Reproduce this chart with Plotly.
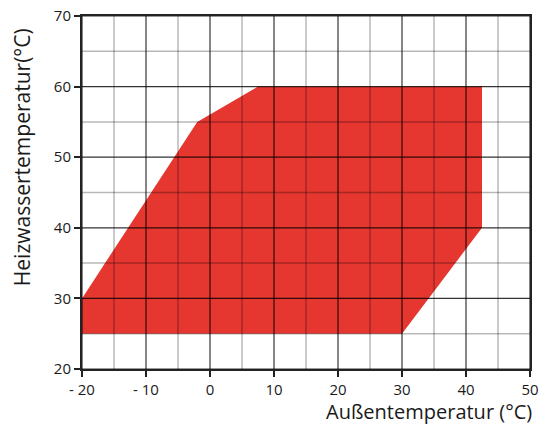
import plotly.graph_objects as go

# Operating envelope (outer temperature vs heating water temperature)
outside_temp = [-20, -20, -2, 7.5, 42.5, 42.5, 30, -20]
water_temp = [25, 30, 55, 60, 60, 40, 25, 25]

x_major = [-20, -10, 0, 10, 20, 30, 40, 50]
x_major_labels = ["- 20", "- 10", "0", "10", "20", "30", "40", "50"]
x_minor = [-15, -5, 5, 15, 25, 35, 45]
y_major = [20, 30, 40, 50, 60, 70]
y_minor = [25, 35, 45, 55, 65]

FONT = "'Open Sans', Lato, sans-serif"

fig = go.Figure()
fig.add_trace(go.Scatter(
    x=outside_temp, y=water_temp, mode="lines", fill="toself",
    fillcolor="#E53630", line=dict(width=0, color="#E53630"),
    hoverinfo="skip", showlegend=False,
))

shapes = []
for v in x_minor:
    shapes.append(dict(type="line", xref="x", yref="paper", x0=v, x1=v, y0=0, y1=1,
                       line=dict(color="rgba(0,0,0,0.28)", width=1.5), layer="above"))
for v in y_minor:
    shapes.append(dict(type="line", xref="paper", yref="y", x0=0, x1=1, y0=v, y1=v,
                       line=dict(color="rgba(0,0,0,0.28)", width=1.5), layer="above"))
for v in x_major:
    shapes.append(dict(type="line", xref="x", yref="paper", x0=v, x1=v, y0=0, y1=1,
                       line=dict(color="rgba(0,0,0,0.8)", width=1.2), layer="above"))
for v in y_major:
    shapes.append(dict(type="line", xref="paper", yref="y", x0=0, x1=1, y0=v, y1=v,
                       line=dict(color="rgba(0,0,0,0.8)", width=1.2), layer="above"))

fig.update_layout(
    template="none",
    width=539, height=425,
    margin=dict(l=82, r=9, t=16, b=56, autoexpand=False),
    paper_bgcolor="white", plot_bgcolor="white",
    font=dict(family=FONT, color="#1a1a1a"),
    shapes=shapes,
    xaxis=dict(range=[-20, 50], tickvals=x_major, ticktext=x_major_labels,
               automargin=False,
               showgrid=False, zeroline=False, showline=True, linecolor="#222",
               linewidth=2, mirror=True, ticks="outside", ticklen=6,
               tickcolor="#222", tickwidth=1.5, tickfont=dict(size=15, family=FONT)),
    yaxis=dict(range=[20, 70], tickvals=y_major, showgrid=False, zeroline=False,
               automargin=False,
               showline=True, linecolor="#222", linewidth=2, mirror=True,
               ticks="outside", ticklen=6, tickcolor="#222", tickwidth=1.5,
               tickfont=dict(size=15, family=FONT)),
    annotations=[
        dict(text="Heizwassertemperatur(°C)", xref="paper", yref="paper",
             x=-0.134, y=0.6, textangle=-90, showarrow=False,
             font=dict(size=21, family=FONT, color="#1a1a1a"),
             xanchor="center", yanchor="middle"),
        dict(text="Außentemperatur (°C)", xref="paper", yref="paper",
             x=1.007, y=-0.119, showarrow=False, borderpad=0,
             font=dict(size=20, family=FONT, color="#1a1a1a"),
             xanchor="right", yanchor="middle"),
    ],
)

fig.write_html("out.html", config={"displayModeBar": False},
               post_script="document.body.style.margin='0';document.body.style.padding='0';")
